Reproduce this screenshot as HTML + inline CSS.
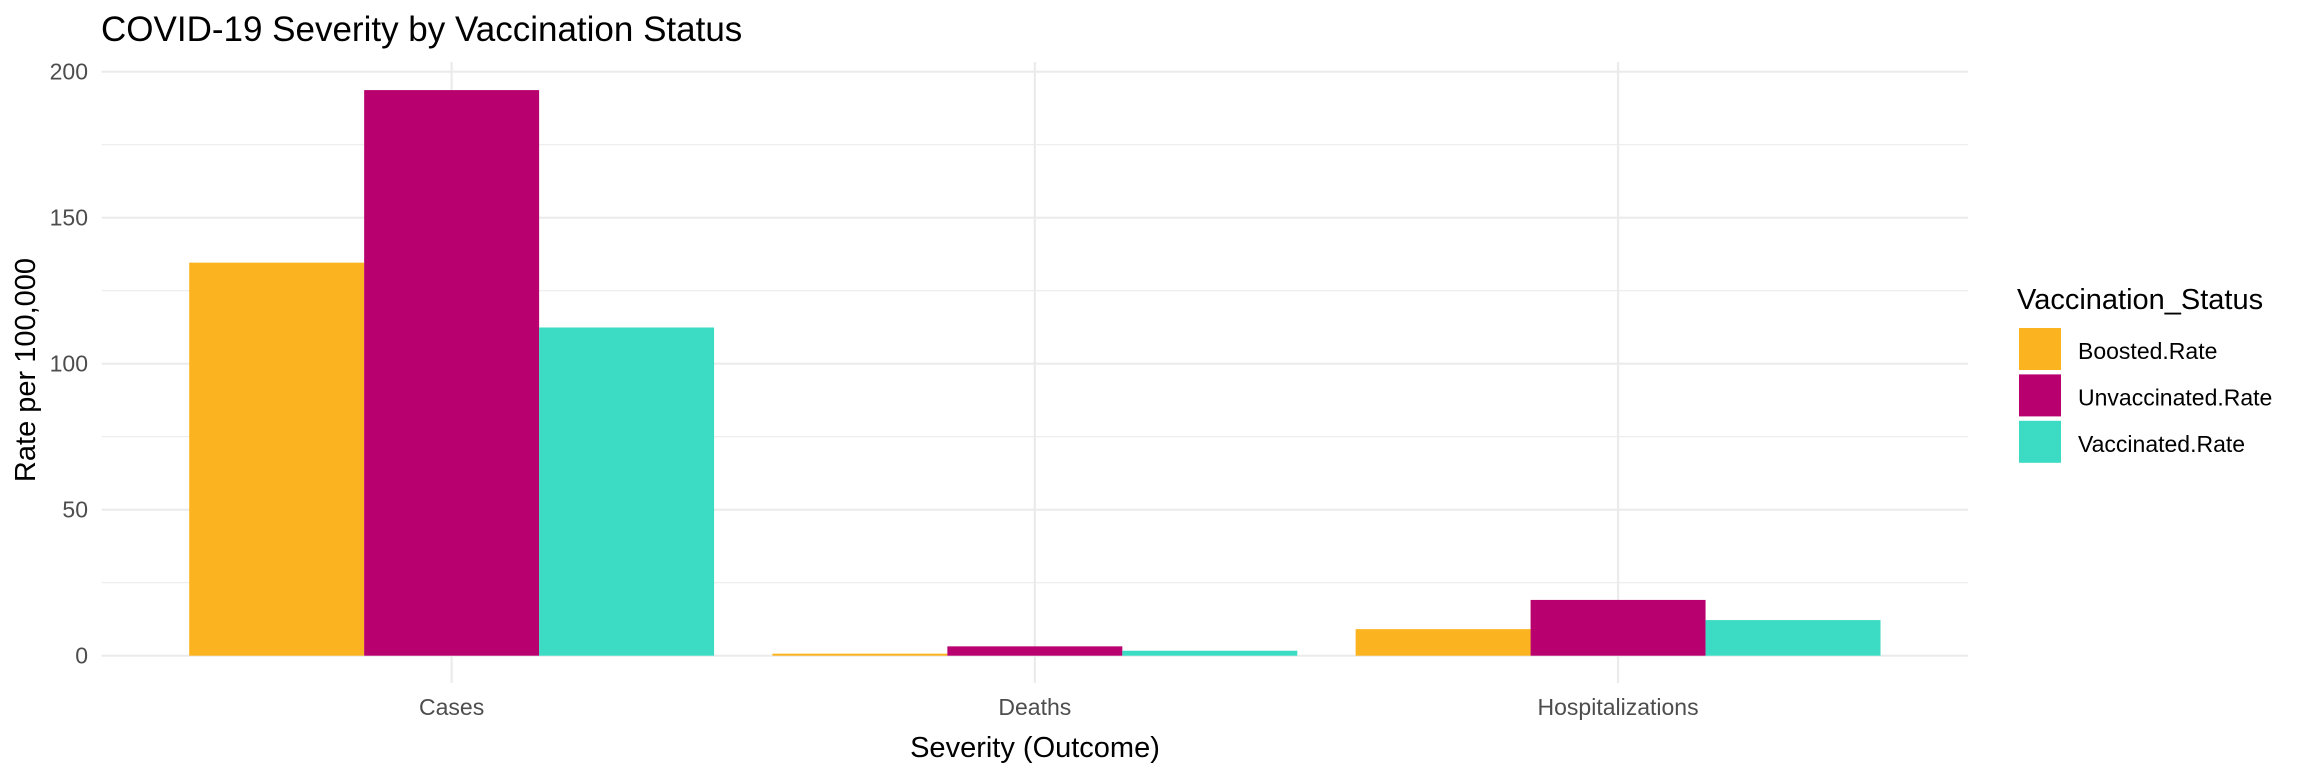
<!DOCTYPE html>
<html><head><meta charset="utf-8"><style>
html,body{margin:0;padding:0;background:#fff;}
svg{display:block;font-family:"Liberation Sans",Arial,sans-serif;}
</style></head><body>
<svg id="chart" width="2304" height="768" viewBox="0 0 2304 768" xmlns="http://www.w3.org/2000/svg">
<rect width="2304" height="768" fill="#fff"/>
<text x="101" y="41" font-size="35" fill="#000">COVID-19 Severity by Vaccination Status</text>
<g id="grid"></g>
<g id="bars"></g>
<g id="yticks"></g>
<g id="xticks"></g>
<text x="1035" y="757" font-size="29" text-anchor="middle" fill="#000">Severity (Outcome)</text>
<text transform="translate(35,370) rotate(-90)" font-size="29" text-anchor="middle" fill="#000">Rate per 100,000</text>
<g id="legend">
<text x="2017" y="309" font-size="29" fill="#000">Vaccination_Status</text>
</g>
</svg>
<script>
const categories = ["Cases","Deaths","Hospitalizations"];
const seriesNames = ["Boosted.Rate","Unvaccinated.Rate","Vaccinated.Rate"];
const boosted = [134.6, 0.7, 9.1];
const unvaccinated = [193.7, 3.2, 19.1];
const vaccinated = [112.4, 1.7, 12.2];
const yTicks = [0, 50, 100, 150, 200];
const yMinor = [25, 75, 125, 175];
const colors = ["#FBB41F","#B8006E","#3CDBC4"];
const series = [boosted, unvaccinated, vaccinated];
const NS = "http://www.w3.org/2000/svg";
const L = 101.7, R = 1968, T = 62, B = 683;
const y0 = 655.7, pxPerUnit = 2.92;
const band = (R - L) / (categories.length + 0.2);
function xCenter(i){ return L + band * (0.6 + i); }
function yScale(v){ return y0 - v * pxPerUnit; }
function mk(tag, attrs, parent){ const e = document.createElementNS(NS, tag); for (const k in attrs) e.setAttribute(k, attrs[k]); parent.appendChild(e); return e; }
const grid = document.getElementById('grid');
yMinor.forEach(v => {
  const l = mk('line', {x1:L, x2:R, y1:yScale(v), y2:yScale(v), stroke:'#ebebeb', 'stroke-width':1.1}, grid);
  
  
});
yTicks.forEach(v => {
  const l = mk('line', {x1:L, x2:R, y1:yScale(v), y2:yScale(v), stroke:'#ebebeb', 'stroke-width':2.2}, grid);
  
  
});
categories.forEach((c, i) => {
  const l = mk('line', {x1:xCenter(i), x2:xCenter(i), y1:T, y2:B, stroke:'#ebebeb', 'stroke-width':2.2}, grid);
  
  
});
const bars = document.getElementById('bars');
const bw = band * 0.9 / series.length;
categories.forEach((c, i) => {
  series.forEach((s, j) => {
    const x = xCenter(i) - band * 0.45 + j * bw;
    const r = mk('rect', {x:x, y:yScale(s[i]), width:bw, height:y0 - yScale(s[i]), fill:colors[j]}, bars);
    
    
  });
});
const yt = document.getElementById('yticks');
yTicks.forEach(v => {
  const t = mk('text', {x:88, y:yScale(v) + 8, 'font-size':23, fill:'#4d4d4d', 'text-anchor':'end'}, yt);
  t.textContent = v;
  
  
});
const xt = document.getElementById('xticks');
categories.forEach((c, i) => {
  const t = mk('text', {x:xCenter(i), y:715, 'font-size':23, fill:'#4d4d4d', 'text-anchor':'middle'}, xt);
  t.textContent = c;
  
  
});
const lg = document.getElementById('legend');
seriesNames.forEach((n, j) => {
  const k = mk('rect', {x:2019, y:328 + j * 46.4, width:42, height:42, fill:colors[j]}, lg);
  
  
  const t = mk('text', {x:2078, y:359 + j * 46.4, 'font-size':23, fill:'#000'}, lg);
  t.textContent = n;
  
  
});
</script>
</body></html>
